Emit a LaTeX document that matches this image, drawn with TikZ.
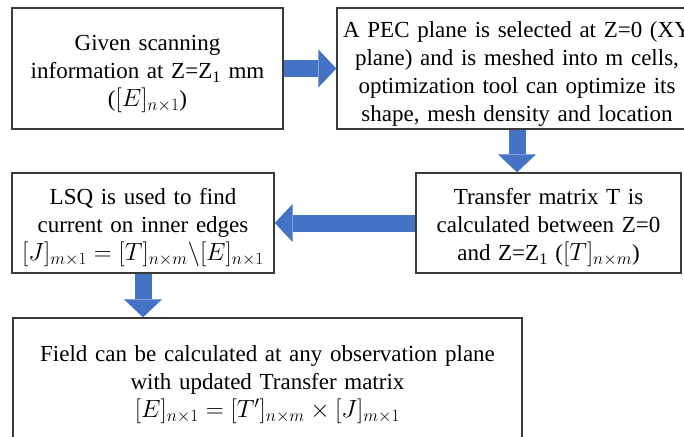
\documentclass[tikz,border=0pt]{standalone}
\usepackage{fontspec}
\setmainfont{Liberation Serif}
\usetikzlibrary{arrows.meta}
\definecolor{flowblue}{HTML}{4472C4}
\definecolor{boxline}{HTML}{3A3A3A}
\tikzset{
    stepbox/.style={draw=boxline, line width=1.3pt, fill=white, align=center, inner sep=0pt,
        font=\fontsize{23}{28}\selectfont, execute at begin node={\rule{0pt}{26pt}}},
    flow/.style={draw=flowblue, line width=17pt, -{Triangle[length=18pt, width=38pt, line width=0pt]}}
}

\begin{document}
\begin{tikzpicture}[x=1pt, y=-1pt]
    \useasboundingbox (0,0) rectangle (684,436);
    % steps
    \node[stepbox, minimum width=271pt, minimum height=121pt, text width=260pt] (scan) at (147.5,68.5)
        {Given scanning\\ information at Z=Z\textsubscript{1} mm\\ (\mbox{$[E]_{n\times 1}$})};
    \node[stepbox, minimum width=360pt, minimum height=121pt, text width=356pt] (pec) at (517,68.5)
        {A PEC plane is selected at Z=0 (XY\\ plane) and is meshed into m cells,\\ optimization tool can optimize its\\ shape, mesh density and location};
    \node[stepbox, minimum width=265pt, minimum height=100pt, text width=260pt] (transfer) at (548.5,223)
        {Transfer matrix T is\\ calculated between Z=0\\ and Z=Z\textsubscript{1} (\mbox{$[T]_{n\times m}$})};
    \node[stepbox, minimum width=262pt, minimum height=100pt, text width=260pt] (lsq) at (143,223)
        {LSQ is used to find\\ current on inner edges\\ \mbox{$[J]_{m\times 1}=[T]_{n\times m}\backslash[E]_{n\times 1}$}};
    \node[stepbox, minimum width=509pt, minimum height=124pt, text width=500pt] (field) at (267.5,380)
        {Field can be calculated at any observation plane\\ with updated Transfer matrix\\ \mbox{$[E]_{n\times 1}=[T']_{n\times m}\times[J]_{m\times 1}$}};
    % block arrows
    \draw[flow] (scan.east) -- (pec.west);
    \draw[flow] (pec.south) -- (pec.south |- transfer.north);
    \draw[flow] (transfer.west) -- (lsq.east);
    \draw[flow] (lsq.south) -- (lsq.south |- field.north);
\end{tikzpicture}
\end{document}
